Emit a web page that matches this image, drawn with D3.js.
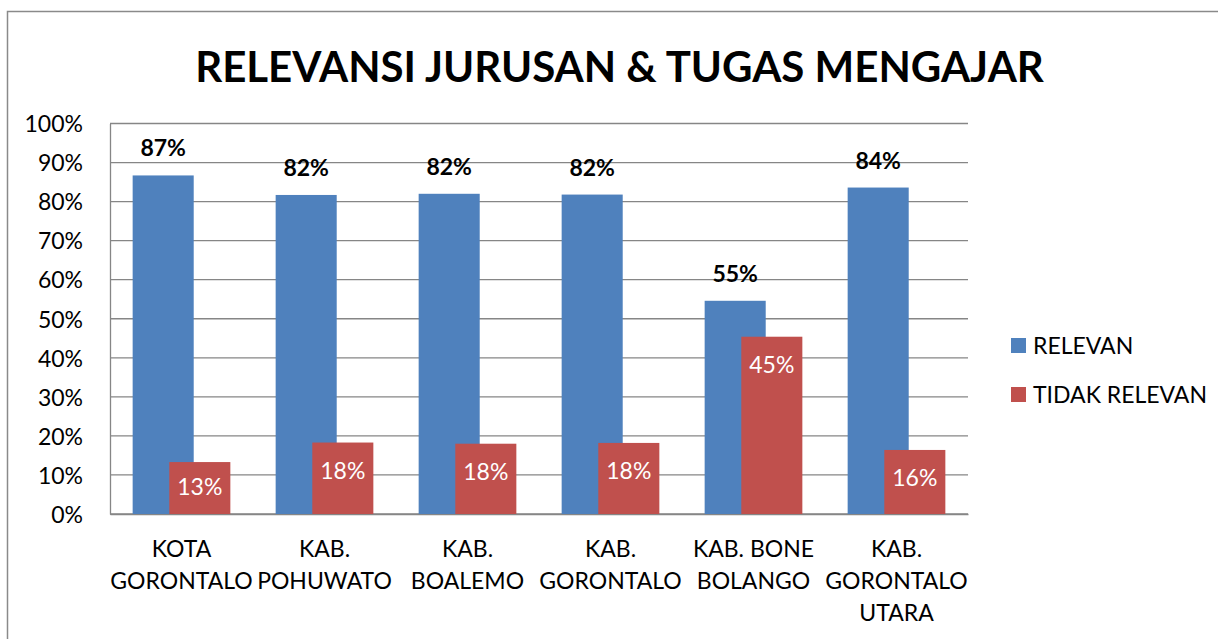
<!DOCTYPE html>
<html>
<head>
<meta charset="utf-8">
<script src="https://cdn.jsdelivr.net/npm/d3@7"></script>
<style>
  body { margin: 0; background: #fff; }
  svg { display: block; font-family: Lato, "Open Sans", sans-serif; }
</style>
</head>
<body>
<div id="chart"></div>
<script>
// data
const categories = ["KOTA\nGORONTALO", "KAB.\nPOHUWATO", "KAB.\nBOALEMO", "KAB.\nGORONTALO", "KAB. BONE\nBOLANGO", "KAB.\nGORONTALO\nUTARA"];
const seriesNames = ["RELEVAN", "TIDAK RELEVAN"];
const relevan = [0.867, 0.817, 0.820, 0.818, 0.546, 0.836];
const tidakRelevan = [0.133, 0.183, 0.180, 0.182, 0.454, 0.164];
const yTicks = [0, 0.1, 0.2, 0.3, 0.4, 0.5, 0.6, 0.7, 0.8, 0.9, 1.0];
const colors = ["#4F81BD", "#C0504D"];

const width = 1218, height = 639;
const plot = {left: 110, right: 968, top: 123.5, bottom: 514};

const svg = d3.select("#chart").append("svg")
    .attr("width", width)
    .attr("height", height);

// outer chart border
svg.append("rect")
    .attr("x", 7.5).attr("y", 11.5)
    .attr("width", 1215).attr("height", 640)
    .attr("fill", "none")
    .attr("stroke", "#8a8a8a")
    .attr("stroke-width", 1.5);

svg.append("text")
    .attr("x", 619.5).attr("y", 82)
    .attr("text-anchor", "middle")
    .style("font-size", "42px")
    .style("font-weight", "bold")
    .text("RELEVANSI JURUSAN & TUGAS MENGAJAR");

const x = d3.scaleBand()
    .domain(categories)
    .range([plot.left, plot.right]);

const y = d3.scaleLinear()
    .domain([0, 1])
    .range([plot.bottom, plot.top]);

// gridlines
svg.append("g")
   .selectAll("line")
   .data(yTicks)
   .enter()
   .append("line")
   .attr("x1", plot.left).attr("x2", plot.right)
   .attr("y1", d => y(d)).attr("y2", d => y(d))
   .attr("stroke", "#868686")
   .attr("stroke-width", 1.3);

// y axis
const yAxis = svg.append("g")
   .attr("transform", `translate(${plot.left},0)`)
   .call(d3.axisLeft(y).tickValues(yTicks).tickFormat(d3.format(".0%")).tickSize(0).tickPadding(27));
yAxis.select(".domain").attr("stroke", "#868686").attr("stroke-width", 1.3);
yAxis.selectAll("text")
     .style("font-size", "23px")
     .style("font-family", "Lato, sans-serif")
     .attr("fill", "#000")
     .attr("dy", "0.36em");

// x axis with wrapped labels
const xAxis = svg.append("g")
   .attr("transform", `translate(0,${plot.bottom})`)
   .call(d3.axisBottom(x).tickSize(0).tickPadding(0));
xAxis.select(".domain").attr("stroke", "#868686").attr("stroke-width", 1.3);
xAxis.selectAll("text")
     .style("font-size", "23px")
     .style("font-family", "Lato, sans-serif")
     .attr("fill", "#000")
     .attr("y", 0).attr("dy", null)
     .each(function(d) {
         const t = d3.select(this).text(null);
         d.split("\n").forEach((line, i) => {
             t.append("tspan").attr("x", 0).attr("y", 43 + i * 32).text(line);
         });
     });

// bars (overlapping, like the original)
const barW = x.bandwidth() * 0.427;
const offsets = [-0.8, -0.2];
const rows = categories.map((c, i) => ({cat: c, values: [relevan[i], tidakRelevan[i]]}));

seriesNames.forEach((name, s) => {
    svg.append("g")
       .selectAll("rect")
       .data(rows)
       .enter()
       .append("rect")
       .attr("x", d => x(d.cat) + x.bandwidth() / 2 + offsets[s] * barW)
       .attr("y", d => y(d.values[s]))
       .attr("width", barW)
       .attr("height", d => y(0) - y(d.values[s]))
       .attr("fill", colors[s]);
});

// labels above blue bars
svg.append("g")
   .selectAll("text")
   .data(rows)
   .enter()
   .append("text")
   .attr("x", d => x(d.cat) + x.bandwidth() / 2 + (offsets[0] + 0.5) * barW)
   .attr("y", d => y(d.values[0]) - 19)
   .attr("text-anchor", "middle")
   .style("font-size", "23px")
   .style("font-weight", "bold")
   .text(d => Math.round(d.values[0] * 100) + "%");

// labels inside red bars
svg.append("g")
   .selectAll("text")
   .data(rows)
   .enter()
   .append("text")
   .attr("x", d => x(d.cat) + x.bandwidth() / 2 + (offsets[1] + 0.5) * barW)
   .attr("y", d => Math.min(y(d.values[1]) + 36, y(0) - 19))
   .attr("text-anchor", "middle")
   .attr("fill", "#fff")
   .style("font-size", "23px")
   .text(d => Math.round(d.values[1] * 100) + "%");

// legend
const legend = svg.append("g")
   .selectAll("g")
   .data(seriesNames)
   .enter()
   .append("g")
   .attr("transform", (d, i) => `translate(1011,${338 + i * 49})`);
legend.append("rect")
   .attr("width", 15).attr("height", 15)
   .attr("fill", (d, i) => colors[i]);
legend.append("text")
   .attr("x", 22).attr("y", 16)
   .style("font-size", "23px")
   .text(d => d);
</script>
</body>
</html>
